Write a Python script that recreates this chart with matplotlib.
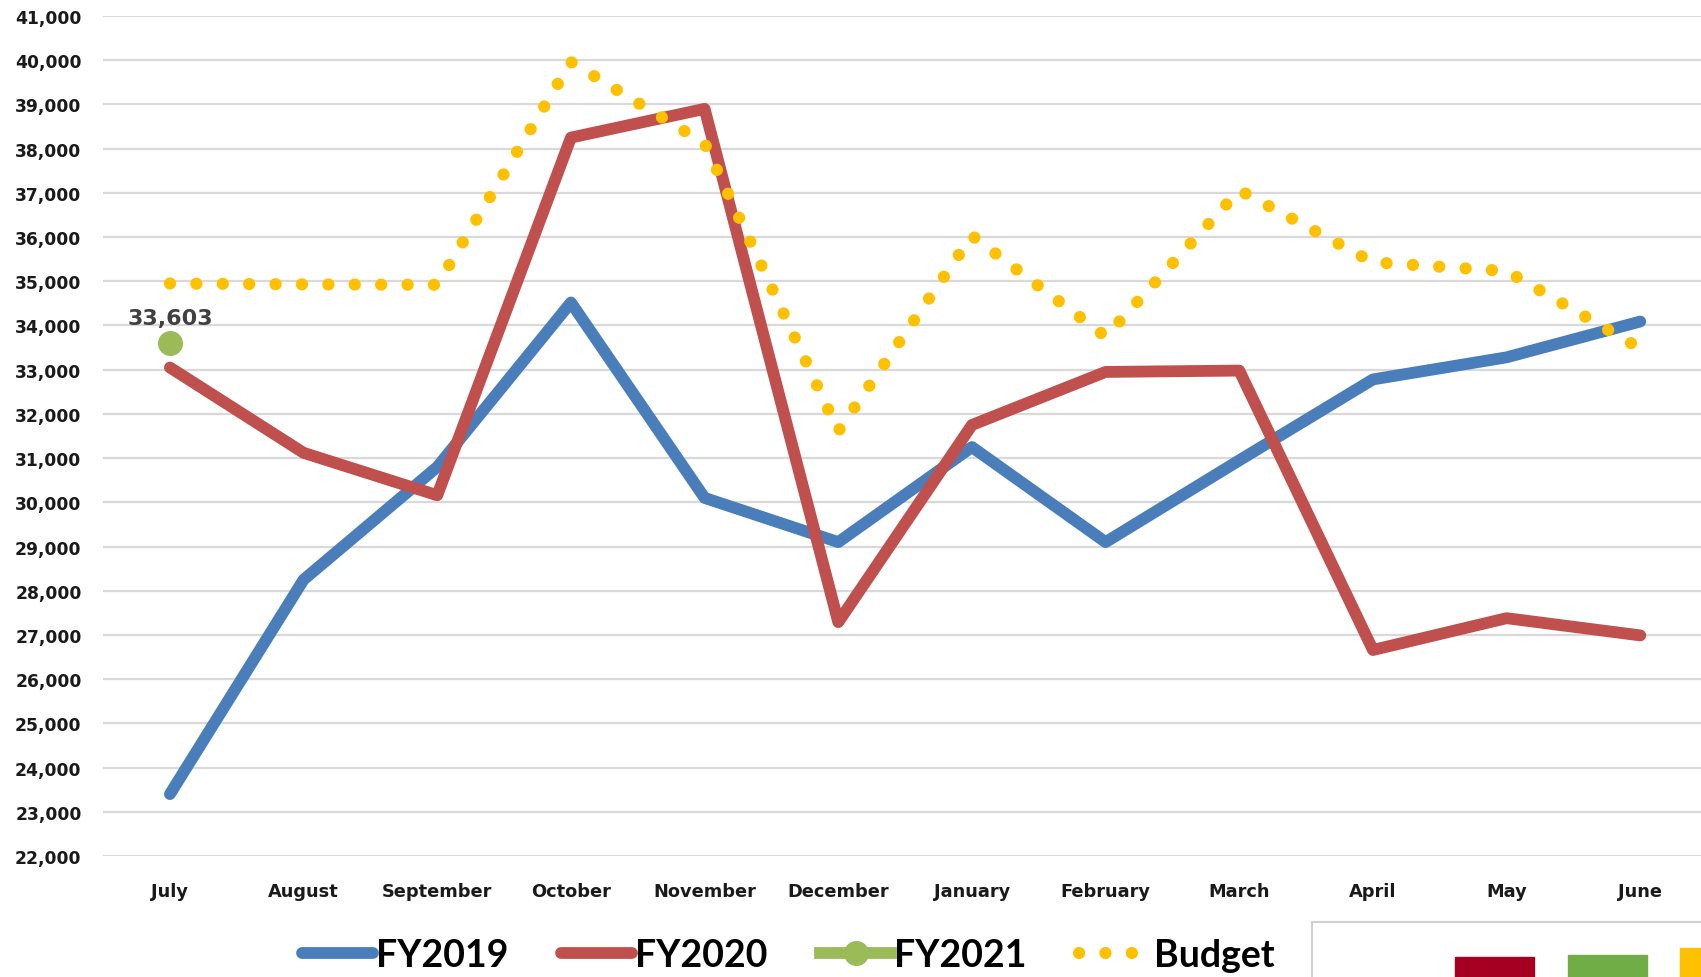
import matplotlib.pyplot as plt
from matplotlib.patches import Rectangle
from matplotlib.ticker import FuncFormatter

months = ["July", "August", "September", "October", "November", "December",
          "January", "February", "March", "April", "May", "June"]
fy2019 = [23400, 28250, 30800, 34520, 30100, 29100, 31250, 29100, 30950, 32780, 33280, 34090]
fy2020 = [33050, 31120, 30160, 38250, 38900, 27290, 31750, 32950, 32980, 26660, 27380, 26990]
fy2021 = [33603]
budget = [34950, 34930, 34920, 39960, 38120, 31610, 36030, 33750, 37060, 35430, 35230, 33480]

blue = "#4A7EBB"
red = "#C0504D"
green = "#9BBB59"
gold = "#FFC000"

plt.rcParams["font.family"] = ["DejaVu Sans"]

fig = plt.figure(figsize=(17.01, 9.78), dpi=100)
ax = fig.add_axes([0.0606, 0.1237, 0.943, 0.8589])

x = range(len(months))
ax.plot(x, fy2019, color=blue, lw=8.5, solid_capstyle="round", solid_joinstyle="round", label="FY2019")
ax.plot(x, fy2020, color=red, lw=8.5, solid_capstyle="round", solid_joinstyle="round", label="FY2020")
ax.plot(x[:len(fy2021)], fy2021, color=green, lw=8.5, marker="o", ms=17, label="FY2021")
ax.plot(x, budget, color=gold, lw=8.8, linestyle=(0, (0.01, 2.15)), dash_capstyle="round", label="Budget")

ax.annotate(f"{fy2021[0]:,}", (0, fy2021[0]), xytext=(0, 18), textcoords="offset points",
            ha="center", va="center", fontsize=16, color="#404040", fontweight="bold")

ax.set_xlim(-0.5, 11.5)
ax.set_ylim(22000, 41000)
ax.set_yticks(range(22000, 41001, 1000))
ax.yaxis.set_major_formatter(FuncFormatter(lambda v, p: f"{int(v):,}"))
ax.set_xticks(list(x))
ax.set_xticklabels(months)
ax.tick_params(axis="both", length=0, labelcolor="#1a1a1a")
ax.tick_params(axis="y", pad=15.5, labelsize=12.3)
ax.tick_params(axis="x", pad=19, labelsize=12.8)
for lab in ax.get_xticklabels() + ax.get_yticklabels():
    lab.set_fontweight("bold")

ax.grid(axis="y", color="#D9D9D9", lw=1.6)
ax.set_axisbelow(True)
for s in ax.spines.values():
    s.set_visible(False)

fig.legend(loc="center", bbox_to_anchor=(788 / 1701, 1 - 956 / 978), ncol=4, frameon=False,
           prop={"family": ["Lato", "DejaVu Sans"], "weight": "bold", "size": 27},
           handlelength=1.9, handletextpad=0.08, columnspacing=1.4, numpoints=1)

# part of the neighbouring panel, cut off at the bottom right
fig.patches.append(Rectangle((0.7713, -0.01), 0.25, 0.0662, transform=fig.transFigure,
                             facecolor="white", edgecolor="#D0D0D0", lw=1.5))
fig.patches.append(Rectangle((0.8554, 0), 0.0464, 0.0204, transform=fig.transFigure, color="#A50021"))
fig.patches.append(Rectangle((0.9218, 0), 0.0465, 0.0225, transform=fig.transFigure, color="#70AD47"))
fig.patches.append(Rectangle((0.9877, 0), 0.02, 0.0297, transform=fig.transFigure, color=gold))

fig.savefig("out.png", dpi=100)
